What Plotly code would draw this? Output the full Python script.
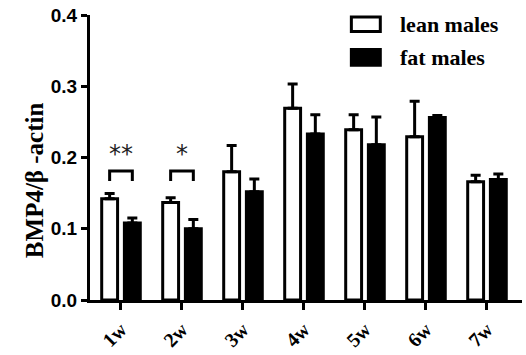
import plotly.graph_objects as go

categories = ["1w", "2w", "3w", "4w", "5w", "6w", "7w"]
lean_mean = [0.142, 0.137, 0.180, 0.269, 0.239, 0.229, 0.166]
lean_err = [0.0075, 0.0066, 0.037, 0.034, 0.021, 0.050, 0.009]
fat_mean = [0.108, 0.100, 0.152, 0.233, 0.218, 0.256, 0.169]
fat_err = [0.007, 0.013, 0.018, 0.027, 0.039, 0.003, 0.008]
y_ticks = [0.0, 0.1, 0.2, 0.3, 0.4]
sig_groups = [0, 1]
sig_labels = ["**", "*"]
series_names = ["lean males", "fat males"]
y_title = "BMP4/β -actin"

xs = list(range(len(categories)))
bargap = 0.256
offset = (1 - bargap) / 4

fig = go.Figure()
fig.add_trace(go.Bar(
    x=xs, y=lean_mean, name=series_names[0],
    marker=dict(color="white", line=dict(color="black", width=3)),
    error_y=dict(type="data", symmetric=False, array=lean_err,
                 arrayminus=[0] * len(lean_err), color="black",
                 thickness=3, width=5),
    showlegend=False,
))
fig.add_trace(go.Bar(
    x=xs, y=fat_mean, name=series_names[1],
    marker=dict(color="black", line=dict(color="black", width=3)),
    error_y=dict(type="data", symmetric=False, array=fat_err,
                 arrayminus=[0] * len(fat_err), color="black",
                 thickness=3, width=5),
    showlegend=False,
))

shapes = []
annotations = []
for g, lab in zip(sig_groups, sig_labels):
    x0 = g - offset
    x1 = g + offset
    shapes.append(dict(
        type="path", xref="x", yref="y",
        path=f"M {x0},0.167 L {x0},0.181 L {x1},0.181 L {x1},0.167",
        line=dict(color="black", width=3),
    ))
    annotations.append(dict(
        x=g, y=0.183, xref="x", yref="y", text=lab, showarrow=False,
        yanchor="bottom", xanchor="center",
        font=dict(family="DejaVu Sans", size=24, color="#222"),
    ))

# legend drawn as layout decoration
leg_items = [
    (series_names[0], "white", 0.993, 0.942),
    (series_names[1], "black", 0.879, 0.824),
]
for name, fill, ytop, ybot in leg_items:
    shapes.append(dict(
        type="rect", xref="paper", yref="paper",
        x0=0.605, x1=0.672, y0=ybot, y1=ytop,
        fillcolor=fill, line=dict(color="black", width=3),
    ))
    annotations.append(dict(
        x=0.712, y=(ytop + ybot) / 2, xref="paper", yref="paper",
        text=f"<b>{name}</b>", showarrow=False, xanchor="left", yanchor="middle",
        font=dict(family="Liberation Serif", size=22, color="black"),
    ))

# y-axis title placed as rotated text
annotations.append(dict(
    x=-0.13, y=0.42, xref="paper", yref="paper", text=f"<b>{y_title}</b>",
    textangle=-90, showarrow=False, xanchor="center", yanchor="middle",
    font=dict(family="Liberation Serif", size=25, color="black"),
))

fig.update_layout(
    width=526, height=355,
    margin=dict(l=90, r=4, t=15, b=55),
    paper_bgcolor="white", plot_bgcolor="white",
    barmode="group", bargap=bargap, bargroupgap=0.3,
    shapes=shapes, annotations=annotations,
    xaxis=dict(
        range=[-0.508, 6.574], tickmode="array", tickvals=xs,
        ticktext=[f"<b>{c}</b>" for c in categories],
        tickangle=-45, showline=True, linecolor="black", linewidth=3,
        ticks="outside", ticklen=7, tickwidth=3, tickcolor="black",
        showgrid=False, zeroline=False, automargin=False,
        tickfont=dict(family="Liberation Serif", size=20, color="black"),
    ),
    yaxis=dict(
        range=[0, 0.4], tickmode="array", tickvals=y_ticks,
        ticktext=[f"<b>{v:.1f}</b>" for v in y_ticks],
        showline=True, linecolor="black", linewidth=3,
        ticks="outside", ticklen=6, tickwidth=3, tickcolor="black",
        showgrid=False, zeroline=False, automargin=False,
        tickfont=dict(family="Liberation Sans", size=19, color="black"),
    ),
)

fig.write_html("out.html", config={"displayModeBar": False},
               post_script="document.body.style.margin='0';")
